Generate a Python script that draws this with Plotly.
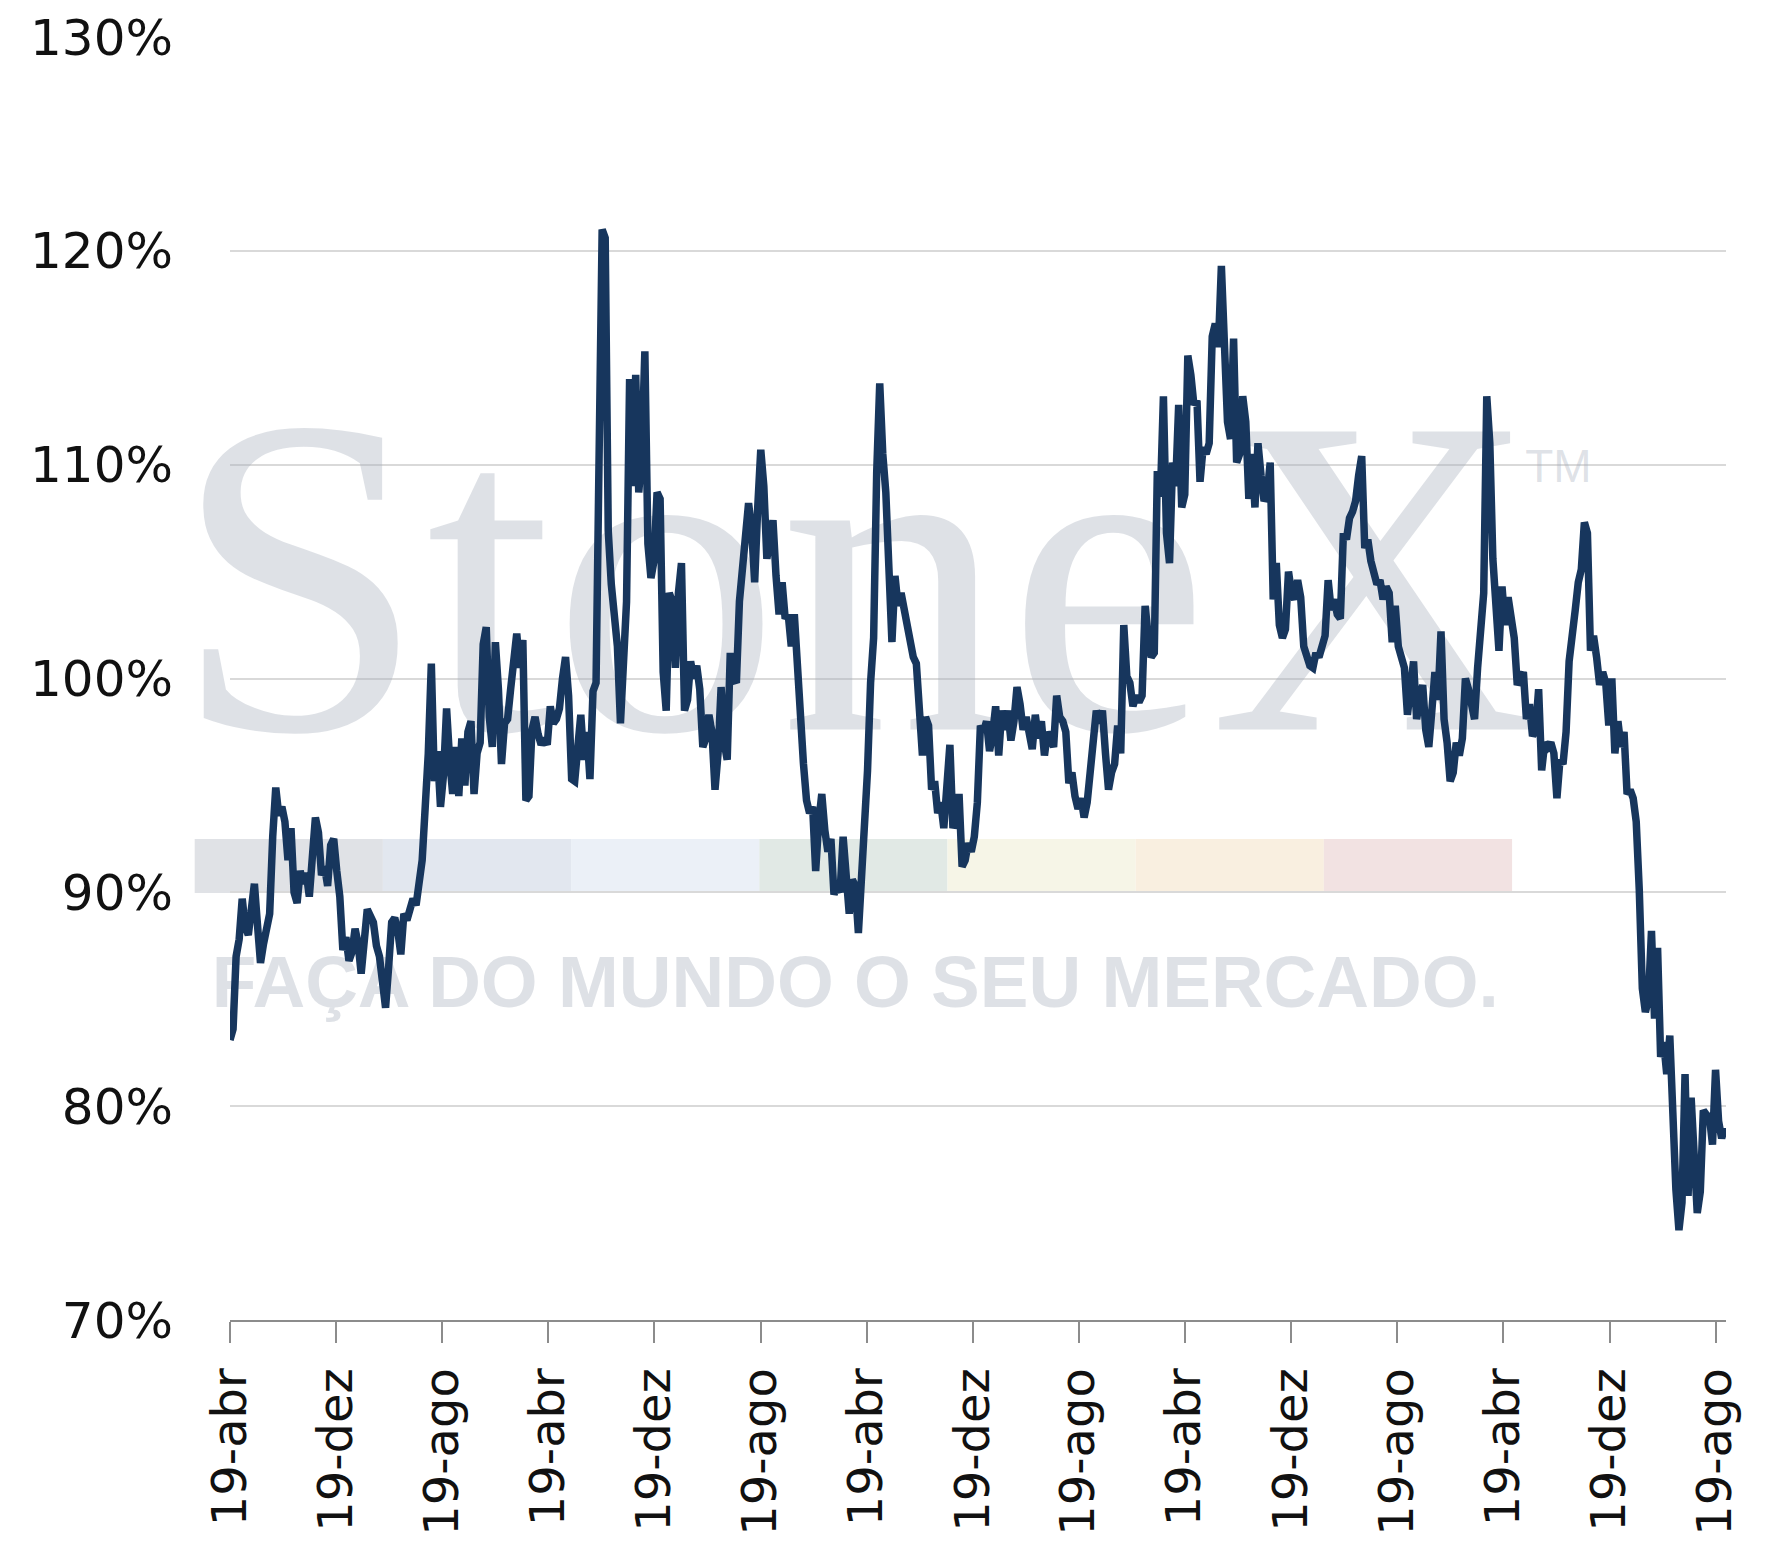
import pandas as pd
import plotly.graph_objects as go

# ---- data (weekly readings, % ) ----
start_date = "2013-04-19"
values = [
    83.1, 83.6, 87.0, 87.8, 89.7, 88.4, 88.0, 89.3, 90.4, 88.5,
    86.7, 87.6, 88.6, 89.0, 92.6, 94.9, 93.6, 94.0, 93.3, 91.5,
    93.0, 90.0, 89.5, 91.0, 90.4, 90.9, 89.8, 92.4, 93.5, 92.8,
    90.8, 91.2, 90.3, 92.2, 92.5, 91.0, 89.8, 87.3, 87.9, 86.8,
    87.2, 88.3, 87.6, 86.2, 87.8, 89.2, 88.9, 88.6, 87.5, 87.0,
    85.8, 84.6, 86.5, 88.6, 88.8, 88.2, 87.1, 89.0, 88.7, 89.3,
    89.7, 89.4, 90.3, 91.5, 94.0, 96.5, 100.7, 95.2, 96.6, 94.0,
    95.5, 98.6, 96.2, 94.6, 96.8, 94.5, 97.2, 95.0, 97.5, 98.0,
    94.6, 96.5, 97.0, 101.6, 102.4, 98.2, 96.8, 101.7, 99.5, 96.0,
    97.9, 98.1, 99.5, 100.8, 102.1, 100.5, 101.8, 94.3, 94.5, 97.6,
    98.2, 97.4, 96.9, 97.2, 96.9, 98.7, 97.9, 98.1, 98.6, 100.0,
    101.0, 99.2, 95.3, 95.2, 97.0, 98.3, 96.2, 97.5, 95.3, 99.4,
    99.8, 111.3, 121.0, 120.6, 106.9, 104.4, 103.2, 101.5, 97.9, 100.5,
    103.6, 114.0, 109.0, 114.2, 108.7, 110.5, 115.3, 106.3, 104.7, 105.5,
    108.7, 108.4, 100.3, 98.5, 104.0, 103.6, 100.5, 104.0, 105.4, 98.5,
    99.0, 100.8, 100.0, 100.6, 99.5, 96.8, 97.2, 98.3, 97.5, 94.8,
    96.5, 99.6, 97.0, 96.2, 101.2, 100.0, 99.8, 103.6, 105.0, 106.9,
    108.2, 107.0, 104.5, 108.0, 110.7, 109.0, 105.6, 106.5, 107.4, 104.8,
    103.0, 104.5, 102.8, 103.0, 101.5, 103.0, 100.2, 98.0, 96.0, 94.3,
    93.7, 94.0, 91.0, 93.3, 94.6, 92.9, 91.9, 92.5, 89.9, 90.3,
    90.0, 92.6, 90.1, 89.0, 90.6, 90.3, 88.1, 90.5, 91.9, 95.7,
    99.8, 101.9, 109.6, 113.8, 110.5, 108.7, 105.2, 101.7, 104.8, 103.4,
    104.0, 103.2, 102.5, 101.6, 101.0, 100.7, 98.0, 96.4, 98.2, 97.8,
    94.8, 95.2, 93.7, 94.2, 93.0, 94.5, 96.9, 93.0, 93.5, 94.6,
    91.2, 91.5, 92.3, 91.9, 92.6, 94.2, 97.8, 97.5, 98.0, 96.6,
    97.4, 98.7, 96.4, 98.5, 97.6, 98.5, 97.1, 98.0, 99.6, 98.8,
    97.6, 98.2, 97.6, 96.7, 98.3, 97.2, 98.0, 96.4, 97.5, 97.1,
    96.8, 99.2, 98.2, 98.0, 97.5, 95.1, 95.6, 94.5, 93.9, 94.4,
    93.5, 94.2, 95.7, 96.5, 98.5, 97.9, 98.5, 96.5, 94.8, 95.6,
    96.0, 97.8, 96.5, 102.5, 100.1, 99.8, 98.7, 99.2, 98.9, 99.2,
    103.4, 102.0, 101.0, 101.2, 109.7, 108.5, 113.2, 106.8, 105.4, 110.1,
    109.0, 112.8, 108.0, 108.6, 115.1, 114.2, 112.8, 113.0, 109.2, 110.8,
    110.5, 111.0, 116.0, 116.6, 115.5, 119.3, 115.5, 112.0, 111.2, 115.9,
    110.1, 110.5, 113.2, 112.0, 108.4, 110.5, 108.0, 111.0, 109.5, 108.3,
    108.6, 110.1, 103.7, 105.4, 102.5, 101.9, 102.3, 105.0, 104.0, 103.7,
    104.6, 103.8, 101.5, 101.0, 100.6, 100.5, 101.2, 101.0, 101.7, 102.0,
    104.6, 103.2, 103.7, 103.0, 102.8, 106.8, 106.5, 107.5, 107.8, 108.3,
    109.5, 110.4, 106.1, 106.5, 105.5, 105.0, 104.4, 104.6, 103.7, 104.3,
    104.0, 101.7, 103.4, 101.5, 101.0, 100.5, 98.3, 99.5, 100.8, 98.1,
    99.0, 99.7, 97.6, 96.8, 98.5, 100.3, 99.0, 102.2, 98.1, 97.0,
    95.2, 95.6, 97.0, 96.4, 97.2, 100.0, 99.5, 98.8, 98.1, 100.5,
    103.0, 104.0, 113.2, 111.0, 105.6, 103.0, 101.3, 104.3, 102.5, 103.8,
    102.8, 101.9, 99.7, 100.0, 100.3, 98.1, 98.8, 97.3, 97.6, 99.5,
    95.7, 97.0, 96.8, 97.0, 96.5, 94.4, 96.2, 96.0, 97.5, 100.8,
    102.5, 103.2, 104.5, 105.1, 107.3, 106.8, 101.3, 102.0, 101.0, 99.7,
    100.3, 99.8, 97.8, 100.0, 96.5, 98.0, 96.8, 97.5, 94.6, 94.8,
    94.4, 93.3, 90.1, 85.5, 84.4, 85.0, 88.2, 84.1, 87.4, 82.3,
    83.0, 81.5, 83.3, 78.8, 76.1, 74.2, 75.5, 81.5, 75.8, 80.4,
    77.4, 75.0, 76.0, 79.8, 79.6, 79.5, 78.2, 81.7, 79.3, 78.5, 79.0,
]
tick_labels = ["19-abr", "19-dez", "19-ago", "19-abr", "19-dez", "19-ago",
               "19-abr", "19-dez", "19-ago", "19-abr", "19-dez", "19-ago",
               "19-abr", "19-dez", "19-ago"]
y_ticks = [70, 80, 90, 100, 110, 120, 130]
y_tick_labels = ["70%", "80%", "90%", "100%", "110%", "120%", "130%"]

watermark_main = "StoneX"
watermark_tm = "TM"
watermark_slogan = "FAÇA DO MUNDO O SEU MERCADO."
band_colors = ["#e0e2e6", "#e2e7ef", "#ebf0f7", "#e1e9e5", "#f6f5e7", "#f9efe0", "#f2e2e2"]

# ---- build ----
dates = pd.date_range(start_date, periods=len(values), freq="7D")
tick_dates = pd.date_range(start_date, periods=len(tick_labels), freq=pd.DateOffset(months=8))
x0 = dates[0]
x1 = dates[-1] + pd.Timedelta(days=3)

def xfrac(f):
    return x0 + (x1 - x0) * f

Y0, Y1 = 70, 130
def yfrac(f):
    return Y0 + (Y1 - Y0) * f

wm_color = "rgba(164,172,186,0.36)"

fig = go.Figure()

# watermark texts (drawn before the line so the line stays on top)
fig.add_trace(go.Scatter(
    x=[xfrac(0.418)], y=[yfrac(0.549)], mode="text", text=[watermark_main],
    textfont=dict(family="Liberation Serif", size=455, color=wm_color),
    textposition="middle center", hoverinfo="skip", showlegend=False, cliponaxis=False))
fig.add_trace(go.Scatter(
    x=[xfrac(0.888)], y=[yfrac(0.662)], mode="text", text=[watermark_tm],
    textfont=dict(family="Liberation Sans", size=46, color=wm_color),
    textposition="middle center", hoverinfo="skip", showlegend=False, cliponaxis=False))
fig.add_trace(go.Scatter(
    x=[xfrac(0.418)], y=[yfrac(0.258)], mode="text", text=["<b>" + watermark_slogan + "</b>"],
    textfont=dict(family="Liberation Sans", size=73, color=wm_color),
    textposition="middle center", hoverinfo="skip", showlegend=False, cliponaxis=False))

# data line
fig.add_trace(go.Scatter(
    x=dates, y=values, mode="lines",
    line=dict(color="#17365d", width=7.5),
    showlegend=False, hoverinfo="x+y"))

# coloured band of the logo
bx0, bx1 = -0.0236, 0.857
bw = (bx1 - bx0) / len(band_colors)
for i, c in enumerate(band_colors):
    fig.add_shape(type="rect", xref="paper", yref="paper",
                  x0=bx0 + i * bw, x1=bx0 + (i + 1) * bw, y0=0.3328, y1=0.375,
                  fillcolor=c, line=dict(width=0), layer="below")

fig.update_layout(
    width=1759, height=1527,
    margin=dict(l=222, r=41, t=29, b=215, autoexpand=False),
    paper_bgcolor="white", plot_bgcolor="white",
    font=dict(family="DejaVu Sans", color="#111111"),
)
fig.update_xaxes(
    range=[x0, x1], tickmode="array", tickvals=tick_dates, ticktext=tick_labels,
    tickangle=-90, tickfont=dict(size=48, family="DejaVu Sans", color="#111111"),
    showgrid=False, showline=True, linecolor="#8c8c8c", linewidth=2,
    ticks="outside", ticklen=21, tickwidth=2, tickcolor="#8c8c8c",
    ticklabelstandoff=6, zeroline=False, automargin=False,
)
fig.update_yaxes(
    range=[Y0, Y1], tickmode="array", tickvals=y_ticks, ticktext=y_tick_labels,
    tickfont=dict(size=50, family="DejaVu Sans", color="#111111"),
    showgrid=True, gridcolor="#d9d9d9", gridwidth=1.5,
    showline=False, ticks="", zeroline=False, ticklabelstandoff=56, automargin=False,
)

fig.write_html("out.html")
